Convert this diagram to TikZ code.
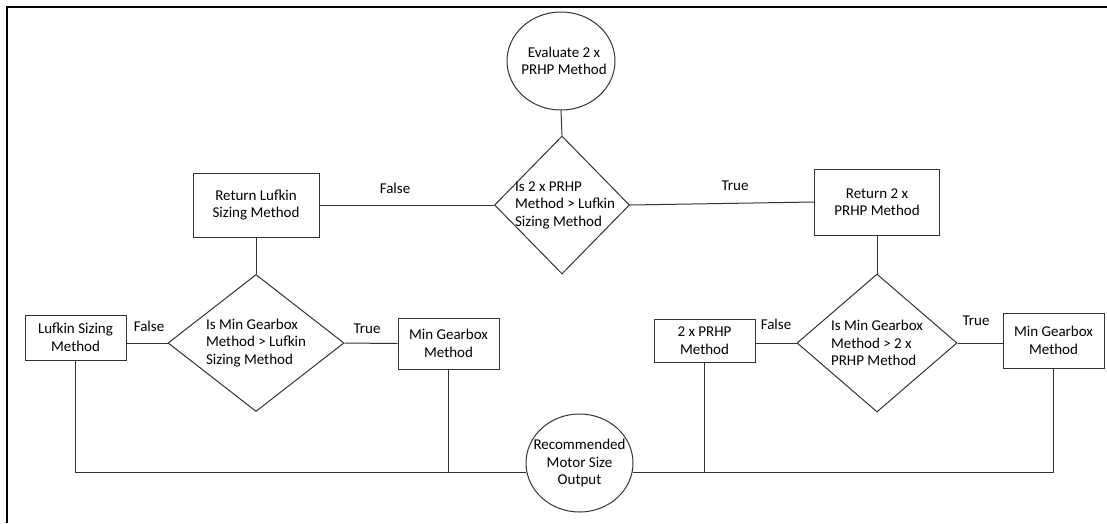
\documentclass[tikz,border=0pt]{standalone}
\usepackage{fontspec}
\setmainfont{Carlito}
\usetikzlibrary{shapes.geometric}

\begin{document}
\begin{tikzpicture}[x=1pt,y=-1pt,
    every node/.style={font=\fontsize{15}{17.5}\selectfont},
    line/.style={draw=black!80,line width=1pt},
    procbox/.style={line,rectangle,inner sep=0pt},
    termoval/.style={line,ellipse,inner sep=0pt},
    decision/.style={line,diamond,inner sep=0pt},
    inner/.style={align=left,font=\fontsize{15}{17.5}\selectfont}]

    \useasboundingbox (0,0) rectangle (1107,523);

    % frame
    \coordinate (fl) at (7,523);
    \coordinate (fc) at (7,7);
    \coordinate (fr) at (1107,7);
    \draw[line width=2pt,black] (fl) -- (fc) -- (fr);

    % nodes (top level)
    \node[termoval,minimum width=108,minimum height=98,
        label={[align=center,xshift=3]center:Evaluate 2 x\\PRHP Method}] (eval) at (561,61) {};
    \node[decision,minimum width=135,minimum height=138,
        label={[inner,xshift=3]center:Is 2 x PRHP\\Method > Lufkin\\Sizing Method}] (dec1) at (562,205) {};
    \node[procbox,minimum width=126,minimum height=64,align=center] (retL) at (256,205) {Return Lufkin\\Sizing Method};
    \node[procbox,minimum width=125,minimum height=66,align=center] (retP) at (877,202) {Return 2 x\\PRHP Method};

    % nodes (left branch)
    \node[decision,minimum width=176,minimum height=137,
        label={[inner]center:Is Min Gearbox\\Method > Lufkin\\Sizing Method}] (dec2) at (256,343) {};
    \node[procbox,minimum width=101,minimum height=45,align=center] (lufk) at (75.5,337.5) {Lufkin Sizing\\Method};
    \node[procbox,minimum width=101,minimum height=51,align=center] (minL) at (448.5,343.5) {Min Gearbox\\Method};

    % nodes (right branch)
    \node[decision,minimum width=160,minimum height=138,
        label={[inner]center:Is Min Gearbox\\Method > 2 x\\PRHP Method}] (dec3) at (877,343) {};
    \node[procbox,minimum width=101,minimum height=43,align=center] (prhp) at (704.5,340.5) {2 x PRHP\\Method};
    \node[procbox,minimum width=101,minimum height=55,align=center] (minR) at (1053.5,340.5) {Min Gearbox\\Method};

    % output
    \node[termoval,minimum width=107,minimum height=98,
        label={[align=center]center:Recommended\\Motor Size\\Output}] (out) at (579.5,463) {};

    % paths
    \draw[line] (eval.south) -- (dec1.north); % evaluate -> first decision
    \draw[line] (dec1.west) -- (retL.east); % false
    \draw[line] (dec1.east) -- (retP.west); % true
    \draw[line] (retL.south) -- (dec2.north);
    \draw[line] (retP.south) -- (dec3.north);
    \draw[line] (dec2.west) -- (dec2.west -| lufk.east); % false
    \draw[line] (dec2.east) -- (minL.west); % true
    \draw[line] (dec3.west) -- (dec3.west -| prhp.east); % false
    \draw[line] (dec3.east) -- (dec3.east -| minR.west); % true

    % paths to output
    \draw[line] (lufk.south) |- (out.190);
    \draw[line] (minL.south) -- (minL.south |- out.190);
    \draw[line] (out.350) -| (minR.south);
    \draw[line] (prhp.south) -- (prhp.south |- out.350);

    % labels
    \node (f1) at (395,188) {False};
    \node (t1) at (735,186) {True};
    \node (f2) at (149,326) {False};
    \node (t2) at (367,329) {True};
    \node (f3) at (776,324) {False};
    \node (t3) at (976,321) {True};

\end{tikzpicture}
\end{document}
